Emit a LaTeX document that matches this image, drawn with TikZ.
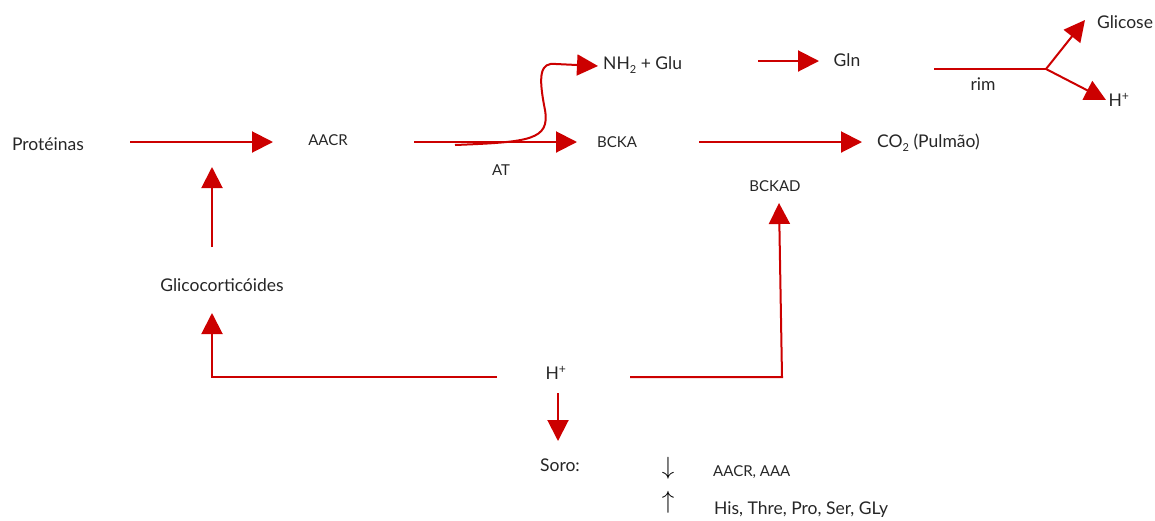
\documentclass[tikz,border=0pt]{standalone}
\usepackage{fontspec}
\setmainfont{Lato}
\usetikzlibrary{arrows.meta}
\definecolor{arrred}{RGB}{204,0,0}
\tikzset{
  big/.style={font=\fontsize{17.5}{20}\selectfont, text=black!85, inner sep=0pt},
  small/.style={font=\fontsize{15}{17}\selectfont, text=black!85, inner sep=0pt},
  redarrow/.style={draw=arrred, line width=2pt, -{Triangle[length=21pt,width=21pt]}},
  redline/.style={draw=arrred, line width=2pt},
}
\newcommand{\lowsub}[1]{\raisebox{-0.45ex}{\fontsize{11}{11}\selectfont #1}}
\begin{document}
\begin{tikzpicture}[x=1pt,y=-1pt]
\useasboundingbox (0,0) rectangle (1155,520);
% texts
\node[big] (prot) at (48,144) {Protéinas};
\node[small] (aacr) at (328,140) {AACR};
\node[small] (bcka) at (617,142) {BCKA};
\node[small] (at) at (501,170) {AT};
\node[big, anchor=west] (nh2) at (603,65) {NH\lowsub{2} + Glu};
\node[big] (gln) at (847,60) {Gln};
\node[big] (rim) at (983,84) {rim};
\node[big] (glicose) at (1125,22) {Glicose};
\node[big] (hplus2) at (1119,100) {H\textsuperscript{+}};
\node[big, anchor=west] (co2) at (877,143) {CO\lowsub{2} (Pulmão)};
\node[small] (bckad) at (775,186) {BCKAD};
\node[big] (glico) at (222,285) {Glicocorticóides};
\node[big] (hplus) at (556,373) {H\textsuperscript{+}};
\node[big] (soro) at (560,465) {Soro:};
\node[inner sep=0pt, font=\fontsize{31}{31}\selectfont] (down) at (668,468) {$\downarrow$};
\node[inner sep=0pt, font=\fontsize{31}{31}\selectfont] (up) at (668,502) {$\uparrow$};
\node[small, anchor=west] (dec) at (713,472) {AACR, AAA};
\node[big, anchor=west] (inc) at (714,510) {His, Thre, Pro, Ser, GLy};
% coordinates
\coordinate (p1) at (130,142);
\coordinate (p2) at (273,142);
\coordinate (g1) at (212,247);
\coordinate (g2) at (212,167);
\coordinate (a1) at (414,142);
\coordinate (a2) at (577,142);
\coordinate (b1) at (699,142);
\coordinate (b2) at (862,142);
\coordinate (s1) at (455,145);
\coordinate (s2) at (598,66);
\coordinate (n1) at (758,61);
\coordinate (n2) at (819,61);
\coordinate (r1) at (934,69);
\coordinate (r2) at (1046,69);
\coordinate (r3) at (1085,20);
\coordinate (r4) at (1106,100);
\coordinate (h1) at (497,377);
\coordinate (h2) at (212,313);
\coordinate (h3) at (630,377);
\coordinate (h4) at (782,377);
\coordinate (h5) at (779,203);
\coordinate (h6) at (558,393);
\coordinate (h7) at (558,441);
% connectors
\draw[redarrow] (p1) -- (p2);
\draw[redarrow] (g1) -- (g2);
\draw[redarrow] (a1) -- (a2);
\draw[redarrow] (b1) -- (b2);
\draw[redarrow] (s1) .. controls (530,142) and (550,140) .. (545,110)
   .. controls (538,75) and (540,62) .. (556,64) -- (s2);
\draw[redarrow] (n1) -- (n2);
\draw[redline] (r1) -- (r2);
\draw[redarrow] (r2) -- (r3);
\draw[redarrow] (r2) -- (r4);
\draw[redarrow] (h1) -| (h2);
\draw[redarrow] (h3) -- (h4) -- (h5);
\draw[redarrow] (h6) -- (h7);
\end{tikzpicture}
\end{document}
